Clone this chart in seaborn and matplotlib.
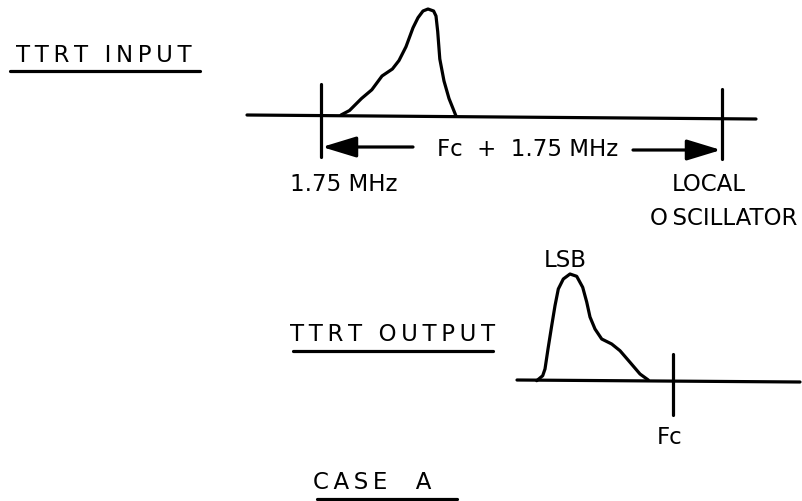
import matplotlib
matplotlib.use("Agg")
import pandas as pd
import seaborn as sns
import matplotlib.pyplot as plt

sns.set_style("white")
plt.rcParams['font.family'] = ['DejaVu Sans']
plt.rcParams['text.color'] = 'black'

# diagram read in pixel units of the 802x502 picture (y grows downward)
input_x = [341, 349.5, 361.5, 371.8, 382, 392.4, 399, 406, 413, 418, 423, 428, 433.6, 436, 437.7, 439.8, 444, 449, 456]
input_y = [116, 111.5, 99.5, 90.8, 77, 70, 61.5, 47.7, 28.8, 18.7, 12, 10, 12, 17, 32.5, 60, 82, 99.5, 117]
input_base_x = [247, 756]
input_base_y = [116, 120]

output_x = [536.7, 542.7, 545, 548, 551.7, 555, 558.3, 563.3, 570, 576.7, 582.7, 586.7, 590, 595, 601.7, 611.7, 620, 630, 640, 648.3]
output_y = [381.7, 376.7, 370, 350, 326.7, 306.7, 290, 280, 275, 277.3, 288.3, 303, 318, 330, 340, 345, 351.7, 363.3, 375, 381]
output_base_x = [517, 800]
output_base_y = [381, 383]

tick_x = [321, 722, 673]
tick_top = [85, 90, 355]
tick_bottom = [158, 160, 416]

fig = plt.figure(figsize=(8.02, 5.02), dpi=100)
ax = fig.add_axes([0, 0, 1, 1])
lw = 2.3
ink = "black"

curves = [
    (input_base_x, input_base_y),
    (input_x, input_y),
    (output_base_x, output_base_y),
    (output_x, output_y),
]
for cx, cy in curves:
    df = pd.DataFrame({"x": cx, "y": cy})
    sns.lineplot(data=df, x="x", y="y", sort=False, estimator=None,
                 color=ink, linewidth=lw, ax=ax)

for tx, t0, t1 in zip(tick_x, tick_top, tick_bottom):
    ax.plot([tx, tx], [t0, t1], color=ink, linewidth=lw)

# dimension arrows
arrow_style = "-|>,head_length=1.05,head_width=0.32"
ax.annotate("", xy=(322, 148), xytext=(413, 148),
            arrowprops=dict(arrowstyle=arrow_style, color=ink, lw=lw,
                            mutation_scale=20, shrinkA=0, shrinkB=0))
ax.annotate("", xy=(721, 151), xytext=(633, 151),
            arrowprops=dict(arrowstyle=arrow_style, color=ink, lw=lw,
                            mutation_scale=20, shrinkA=0, shrinkB=0))


def spaced(s):
    # hand lettering is set with wide letter spacing
    return "\u2009".join(s)


fs = 16.5
ax.text(528, 150, "Fc  +  1.75 MHz", fontsize=fs, ha="center", va="center")
ax.text(290, 185, "1.75 MHz", fontsize=fs, ha="left", va="center")
ax.text(672, 185, "LOCAL", fontsize=fs, ha="left", va="center")
ax.text(797, 219, "O\u2009SCILLATOR", fontsize=fs, ha="right", va="center")
ax.text(565, 261, "LSB", fontsize=fs, ha="center", va="center")
ax.text(670, 438, "Fc", fontsize=fs, ha="center", va="center")

titles = [
    ("TTRT INPUT", 10, 197, 56, 10, 200, 72),
    ("TTRT OUTPUT", 293, 493, 335, 293, 493, 352),
    ("CASE  A", 310, 435, 483, 317, 457, 500),
]
for label, x0, x1, ty, u0, u1, uy in titles:
    ax.text((x0 + x1) / 2, ty, spaced(label), fontsize=fs, ha="center", va="center")
    ax.plot([u0, u1], [uy, uy], color=ink, linewidth=lw)

ax.set_xlim(0, 802)
ax.set_ylim(502, 0)
ax.axis("off")
fig.savefig("out.png", dpi=100, facecolor="white")
